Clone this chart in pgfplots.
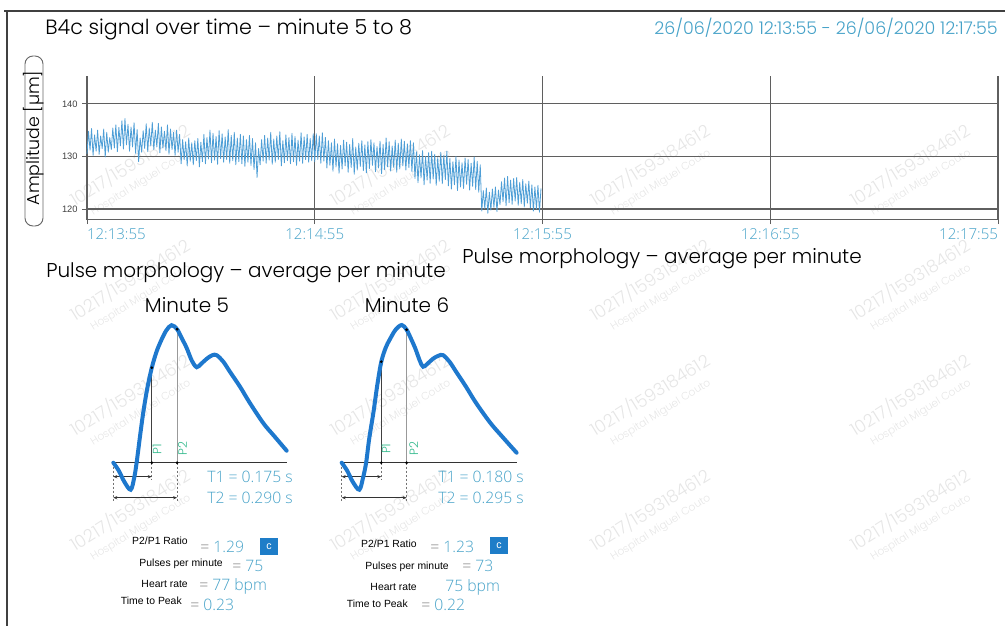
\documentclass[border=0pt]{standalone}
\usepackage{fontspec}
\IfFontExistsTF{Poppins Light}{\setmainfont{Poppins Light}}{\setmainfont{Poppins}}
\IfFontExistsTF{Open Sans Light}{\newfontfamily\osl{Open Sans Light}}{\newfontfamily\osl{Open Sans}}
\newfontfamily\lib{Liberation Sans}
\usepackage{pgfplots}
\usepackage{pgfplotstable}
\pgfplotsset{compat=1.18}
\usetikzlibrary{arrows.meta}
\newcommand\fs[1]{\fontsize{#1}{#1}\selectfont}
\definecolor{teal1}{RGB}{70,162,200}
\definecolor{sig}{RGB}{78,158,214}
\definecolor{pulse}{RGB}{30,120,205}
\definecolor{pgreen}{RGB}{50,185,140}
\definecolor{gridc}{RGB}{95,95,95}
\definecolor{boxc}{RGB}{30,125,200}
\definecolor{wm}{RGB}{230,230,230}

\pgfplotstableread[row sep=\\]{y\\
130.5\\134.8\\131.2\\135.3\\130.2\\134.1\\131.0\\135.0\\130.4\\133.9\\131.5\\135.2\\129.9\\134.6\\130.8\\133.6\\131.3\\135.4\\
131.6\\136.0\\130.9\\135.5\\132.0\\136.8\\131.4\\137.2\\132.2\\136.1\\131.0\\135.6\\131.8\\136.4\\130.6\\135.1\\
129.0\\133.5\\130.8\\134.9\\
131.5\\136.2\\130.9\\135.4\\132.0\\136.5\\131.3\\135.0\\131.8\\136.3\\130.7\\135.6\\131.6\\134.8\\131.1\\136.0\\130.4\\135.2\\131.3\\134.6\\130.2\\135.0\\130.8\\134.2\\
128.6\\133.2\\129.4\\132.8\\128.2\\133.5\\129.1\\132.6\\128.4\\133.0\\129.2\\133.4\\128.0\\132.7\\
129.0\\134.2\\128.6\\133.6\\129.5\\135.0\\128.8\\134.4\\129.3\\133.8\\128.5\\134.9\\129.6\\134.3\\128.9\\133.7\\129.4\\135.1\\128.7\\134.0\\129.2\\134.6\\128.4\\133.5\\129.0\\134.2\\128.6\\133.9\\128.1\\133.2\\128.9\\134.0\\128.3\\133.4\\127.5\\132.6\\
126.0\\131.5\\
128.4\\133.2\\129.1\\134.0\\128.7\\133.5\\129.3\\134.6\\128.5\\133.3\\128.9\\133.9\\129.4\\134.7\\128.2\\133.0\\128.8\\134.1\\129.2\\133.6\\128.6\\134.4\\129.0\\133.8\\128.3\\133.1\\129.1\\134.5\\128.7\\133.7\\129.4\\134.2\\128.9\\133.4\\129.2\\134.3\\
129.0\\134.3\\129.4\\133.9\\128.7\\134.5\\129.1\\133.6\\
127.8\\133.0\\128.3\\132.6\\127.2\\133.3\\128.0\\132.4\\126.8\\132.1\\127.6\\133.1\\128.2\\132.7\\127.0\\132.3\\127.9\\133.4\\126.6\\131.8\\127.4\\132.5\\128.1\\133.0\\127.3\\132.2\\126.9\\132.8\\127.7\\133.2\\128.3\\132.6\\127.1\\131.9\\127.8\\132.9\\126.7\\132.3\\127.5\\133.5\\128.0\\132.8\\127.2\\132.0\\127.9\\133.1\\127.0\\132.5\\127.6\\133.3\\128.2\\132.9\\127.4\\132.4\\127.9\\133.0\\127.1\\132.6\\
125.8\\130.9\\125.0\\130.3\\125.9\\131.1\\124.6\\130.0\\125.5\\130.7\\124.9\\131.0\\125.7\\130.4\\124.5\\129.8\\125.3\\130.8\\124.8\\130.2\\125.6\\131.0\\
124.4\\129.6\\123.8\\129.0\\124.6\\130.0\\123.5\\129.3\\124.2\\128.8\\123.9\\129.7\\124.7\\129.4\\123.6\\128.7\\124.3\\129.9\\123.7\\129.1\\123.2\\128.4\\
119.6\\123.5\\120.1\\124.0\\119.2\\123.2\\119.8\\123.8\\120.3\\124.2\\119.5\\123.6\\
120.8\\125.2\\121.4\\125.9\\120.6\\126.2\\121.2\\125.5\\120.9\\125.8\\121.5\\126.0\\120.7\\125.1\\121.0\\125.6\\120.4\\124.8\\121.1\\125.3\\120.2\\124.6\\119.6\\124.2\\120.0\\124.5\\119.4\\123.9\\
}\sigdata

\pgfplotsset{mini/.style={anchor=south west, scale only axis, width=135.3pt, height=142.5pt,
  xmin=-0.02, xmax=0.80, ymin=-45, ymax=145, hide axis, clip=false}}

\begin{document}
\begin{tikzpicture}[x=0.75pt,y=-0.75pt]
\useasboundingbox (0,0) rectangle (1005,626);
% watermarks
\foreach \wx in {130,390,650,910} {
  \foreach \wy in {165,280,395,510} {
    \node[text=wm, rotate=32, font=\fs{13}] at (\wx,\wy) {10217/1593184612};
    \node[text=wm, rotate=32, font=\fs{8}] at (\wx+11,\wy+18) {Hospital Miguel Couto};
  }
}
% frame
\draw[black!75, line width=1.1pt] (4,11) -- (1005,11);
\draw[black!75, line width=1.1pt] (7,11) -- (7,626);
% titles
\node[anchor=west, font=\fs{15.5}, inner sep=0pt] at (45,29) {B4c signal over time – minute 5 to 8};
\node[anchor=east, text=teal1, font=\fs{13.1}, inner sep=0pt] at (998,28) {26/06/2020 12:13:55 - 26/06/2020 12:17:55};
% y label
\draw[black!60, line width=0.7pt, rounded corners=6pt] (25,56) rectangle (43,226);
\node[rotate=90, font=\fs{13}, inner sep=0pt] at (34,138) {Amplitude [µm]};

\begin{axis}[at={(65.25pt,-164.625pt)}, anchor=south west, scale only axis,
  width=683.25pt, height=107.625pt,
  xmin=0, xmax=240, ymin=118, ymax=145.3,
  axis x line*=bottom, axis y line*=left,
  axis line style={gridc, line width=0.9pt, -},
  grid=major, major grid style={gridc, line width=0.9pt},
  xtick={0,60,120,180,240},
  xticklabels={\makebox[0pt][l]{12:13:55},12:14:55,12:15:55,12:16:55,\makebox[0pt][r]{12:17:55}},
  ytick={120,130,140},
  tick style={gridc, line width=0.7pt}, tick align=outside, major tick length=3.5pt,
  xticklabel style={font=\osl\fs{11.3}, text=teal1},
  yticklabel style={font=\lib\fs{7}, text=black!75},
  /pgf/number format/assume math mode=true,
  clip=false]
\addplot[sig, line width=0.6pt, line join=round] table[x expr=\coordindex*0.4, y=y] {\sigdata};
\end{axis}

\node[anchor=west, font=\fs{15}, inner sep=0pt] at (46,273) {Pulse morphology – average per minute};
\node[anchor=west, font=\fs{15}, inner sep=0pt] at (462,259) {Pulse morphology – average per minute};
\node[font=\fs{15}, inner sep=0pt] at (187,305) {Minute 5};
\node[font=\fs{15}, inner sep=0pt] at (407,305) {Minute 6};

% Minute 5
\begin{axis}[mini, at={(81.675pt,-380.775pt)}]
\addplot[black!55, line width=0.5pt, dash pattern=on 1.5pt off 1.5pt] coordinates {(0,0) (0,-38)};
\addplot[black!55, line width=0.5pt, dash pattern=on 1.5pt off 1.5pt] coordinates {(0.175,0) (0.175,-17)};
\addplot[black!55, line width=0.5pt, dash pattern=on 1.5pt off 1.5pt] coordinates {(0.290,0) (0.290,-38)};
\addplot[black!80, line width=0.5pt, arrows={Stealth[length=3pt,width=2.4pt]-Stealth[length=3pt,width=2.4pt]}] coordinates {(0,-14) (0.175,-14)};
\addplot[black!80, line width=0.5pt, arrows={Stealth[length=3pt,width=2.4pt]-Stealth[length=3pt,width=2.4pt]}] coordinates {(0,-35) (0.290,-35)};
\addplot[black!75, line width=0.5pt] coordinates {(0.175,0) (0.175,95)};
\addplot[black!40, line width=0.5pt] coordinates {(0.290,0) (0.290,133.5)};
\addplot[black!80, line width=1.1pt] coordinates {(-0.007,0) (0.788,0)};
\addplot[pulse, line width=3pt, smooth, tension=0.55, line cap=round] coordinates {
(0,0) (0.025,-8) (0.05,-19) (0.079,-27) (0.095,-15) (0.106,0) (0.12,24) (0.136,50) (0.155,75)
(0.175,95) (0.195,110) (0.213,120) (0.24,132) (0.265,137.5) (0.29,133.5) (0.31,125) (0.333,115)
(0.357,102) (0.379,95.5) (0.40,99) (0.425,104) (0.45,107.5) (0.47,107.5) (0.50,101) (0.53,91)
(0.576,76) (0.62,60) (0.682,39.5) (0.73,27) (0.788,12)};
\addplot[only marks, mark=*, mark size=0.8pt, black] coordinates {(0.175,95) (0.175,0) (0.290,0) (0.290,133.5)};
\node[rotate=90, text=pgreen, font=\fs{9}, inner sep=0pt] at (axis cs:0.199,13.5) {P1};
\node[rotate=90, text=pgreen, font=\fs{9}, inner sep=0pt] at (axis cs:0.315,14.5) {P2};
\end{axis}

% Minute 6
\begin{axis}[mini, at={(252.975pt,-380.775pt)}]
\addplot[black!55, line width=0.5pt, dash pattern=on 1.5pt off 1.5pt] coordinates {(0,0) (0,-38)};
\addplot[black!55, line width=0.5pt, dash pattern=on 1.5pt off 1.5pt] coordinates {(0.180,0) (0.180,-17)};
\addplot[black!55, line width=0.5pt, dash pattern=on 1.5pt off 1.5pt] coordinates {(0.295,0) (0.295,-38)};
\addplot[black!80, line width=0.5pt, arrows={Stealth[length=3pt,width=2.4pt]-Stealth[length=3pt,width=2.4pt]}] coordinates {(0,-14) (0.180,-14)};
\addplot[black!80, line width=0.5pt, arrows={Stealth[length=3pt,width=2.4pt]-Stealth[length=3pt,width=2.4pt]}] coordinates {(0,-35) (0.295,-35)};
\addplot[black!75, line width=0.5pt] coordinates {(0.180,0) (0.180,101)};
\addplot[black!40, line width=0.5pt] coordinates {(0.295,0) (0.295,133)};
\addplot[black!80, line width=1.1pt] coordinates {(-0.005,0) (0.795,0)};
\addplot[pulse, line width=3pt, smooth, tension=0.55, line cap=round] coordinates {
(0,0) (0.025,-8) (0.05,-19) (0.08,-27) (0.097,-15) (0.111,0) (0.125,24) (0.144,50) (0.162,78)
(0.180,101) (0.20,115) (0.218,123) (0.245,133) (0.273,137.7) (0.295,133) (0.315,124) (0.335,114)
(0.355,102) (0.370,96) (0.39,99) (0.415,104) (0.44,107) (0.461,107.5) (0.49,101) (0.52,91)
(0.565,76) (0.61,60) (0.675,40) (0.73,26) (0.795,10)};
\addplot[only marks, mark=*, mark size=0.8pt, black] coordinates {(0.180,101) (0.180,0) (0.295,0) (0.295,133)};
\node[rotate=90, text=pgreen, font=\fs{9}, inner sep=0pt] at (axis cs:0.202,14) {P1};
\node[rotate=90, text=pgreen, font=\fs{9}, inner sep=0pt] at (axis cs:0.327,14.5) {P2};
\end{axis}

% T texts
\node[anchor=west, text=teal1, font=\osl\fs{11.8}, inner sep=0pt] at (207,477) {T1 = 0.175 s};
\node[anchor=west, text=teal1, font=\osl\fs{11.8}, inner sep=0pt] at (207,498) {T2 = 0.290 s};
\node[anchor=west, text=teal1, font=\osl\fs{11.8}, inner sep=0pt] at (438,477) {T1 = 0.180 s};
\node[anchor=west, text=teal1, font=\osl\fs{11.8}, inner sep=0pt] at (438,498) {T2 = 0.295 s};

% stats minute 5
\begin{scope}[every node/.style={inner sep=0pt}]
\node[anchor=east, font=\lib\fs{7.8}] at (188,541) {P2/P1 Ratio};
\node[anchor=east, font=\lib\fs{7.8}] at (223,564) {Pulses per minute};
\node[anchor=east, font=\lib\fs{7.8}] at (188,584) {Heart rate};
\node[anchor=east, font=\lib\fs{7.8}] at (182,601) {Time to Peak};
\node[anchor=west, text=teal1, font=\osl\fs{11.8}] at (200,547) {{\color{black!55}=} 1.29};
\node[anchor=west, text=teal1, font=\osl\fs{11.8}] at (232,566) {{\color{black!55}=} 75};
\node[anchor=west, text=teal1, font=\osl\fs{11.8}] at (199,586) {{\color{black!55}=} 77 bpm};
\node[anchor=west, text=teal1, font=\osl\fs{11.8}] at (190,605) {{\color{black!55}=} 0.23};
\node[fill=boxc, text=white, minimum width=13.5pt, minimum height=12.75pt, font=\lib\fs{8}] at (269,546.5) {c};
% stats minute 6
\node[anchor=east, font=\lib\fs{7.8}] at (417,544) {P2/P1 Ratio};
\node[anchor=east, font=\lib\fs{7.8}] at (449,567) {Pulses per minute};
\node[anchor=east, font=\lib\fs{7.8}] at (417,587) {Heart rate};
\node[anchor=east, font=\lib\fs{7.8}] at (408,604) {Time to Peak};
\node[anchor=west, text=teal1, font=\osl\fs{11.8}] at (430,547) {{\color{black!55}=} 1.23};
\node[anchor=west, text=teal1, font=\osl\fs{11.8}] at (462,566) {{\color{black!55}=} 73};
\node[anchor=west, text=teal1, font=\osl\fs{11.8}] at (445,587) {75 bpm};
\node[anchor=west, text=teal1, font=\osl\fs{11.8}] at (421,605) {{\color{black!55}=} 0.22};
\node[fill=boxc, text=white, minimum width=13.5pt, minimum height=12.75pt, font=\lib\fs{8}] at (499,545.5) {c};
\end{scope}
\end{tikzpicture}
\end{document}
